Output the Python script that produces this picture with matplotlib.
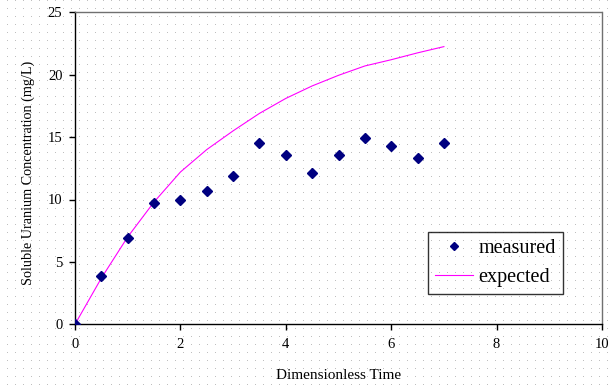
import numpy as np
import matplotlib
matplotlib.use("Agg")
import matplotlib.pyplot as plt

plt.rcParams['font.family'] = ['Liberation Serif', 'DejaVu Serif']

# data
time_points = [0, 0.5, 1.0, 1.5, 2.0, 2.5, 3.0, 3.5, 4.0, 4.5, 5.0, 5.5, 6.0, 6.5, 7.0]
measured = [0.05, 3.85, 6.9, 9.7, 10.0, 10.65, 11.85, 14.5, 13.6, 12.15, 13.6, 14.9, 14.25, 13.35, 14.5]
expected = [0, 3.7, 7.0, 9.8, 12.2, 14.0, 15.5, 16.9, 18.1, 19.1, 19.95, 20.7, 21.2, 21.75, 22.25]

W, H = 615, 386
fig = plt.figure(figsize=(W / 100, H / 100), dpi=100)
fig.patch.set_facecolor('white')

# dotted background texture (one grey pixel every 8 px)
bg = np.ones((H, W, 4))
bg[0::8, 7::8, :3] = 0.75
fig.figimage(bg, xo=0, yo=0, origin='upper', zorder=-1)

ax = fig.add_axes([75 / W, (H - 324.3) / H, (602 - 75) / W, (324.3 - 12.3) / H])
ax.set_facecolor('none')

ax.plot(time_points, measured, linestyle='none', marker='D', markersize=4.8,
        color='#000080', label='measured', zorder=3)
ax.plot(time_points, expected, color='#FF00FF', linewidth=0.8, label='expected', zorder=2)

ax.set_xlim(0, 10)
ax.set_ylim(0, 25)
ax.set_xticks(range(0, 11, 2))
ax.set_yticks(range(0, 26, 5))

for side in ('left', 'bottom'):
    ax.spines[side].set_color('black')
    ax.spines[side].set_linewidth(1.0)
for side in ('top', 'right'):
    ax.spines[side].set_color('#707070')
    ax.spines[side].set_linewidth(1.0)
    ax.spines[side].set_linestyle((0, (1, 1)))

ax.tick_params(direction='out', length=4, width=1, labelsize=10.5, colors='black')
ax.tick_params(axis='x', pad=6)
ax.tick_params(axis='y', pad=5)

ax.set_xlabel('Dimensionless Time', fontsize=11)
ax.set_ylabel('Soluble Uranium Concentration (mg/L)', fontsize=10.2)
ax.xaxis.set_label_coords(0.5, -0.142)
ax.yaxis.set_label_coords(-0.076, 0.485)

leg = ax.legend(loc='lower right', bbox_to_anchor=((563 - 75) / 527, (324.3 - 294) / 312),
                borderaxespad=0, fontsize=14.5, fancybox=False, frameon=True,
                handlelength=1.85, handletextpad=0.3, labelspacing=0.5,
                borderpad=0.35, markerscale=0.8)
leg.get_frame().set_edgecolor('black')
leg.get_frame().set_facecolor('none')
leg.get_frame().set_linewidth(1.0)

fig.savefig('out.png', dpi=100)
